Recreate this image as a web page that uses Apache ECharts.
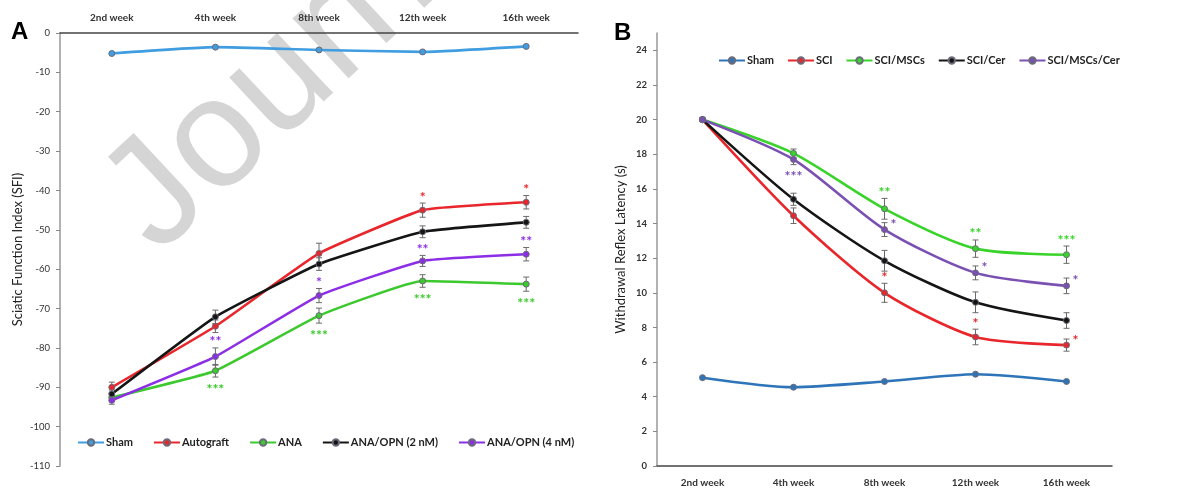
<!DOCTYPE html>
<html>
<head>
<meta charset="utf-8">
<script src="https://cdn.jsdelivr.net/npm/echarts@6/dist/echarts.min.js"></script>
<style>
html,body{margin:0;padding:0;background:#fff;}
#chart{width:1189px;height:488px;}
</style>
</head>
<body>
<div id="chart"></div>
<script>
// ---------- DATA ----------
const weeks = ['2nd week', '4th week', '8th week', '12th week', '16th week'];

// Panel A: Sciatic Function Index (SFI)
const shamA      = [-5.2, -3.6, -4.3, -4.8, -3.4];
const autograftA = [-90.0, -74.5, -56.0, -45.0, -43.0];
const anaA       = [-92.6, -85.8, -71.8, -63.0, -63.8];
const opn2A      = [-91.7, -72.1, -58.7, -50.5, -48.1];
const opn4A      = [-93.3, -82.2, -66.7, -57.9, -56.2];
const autograftAErr = [1.3, 1.6, 2.6, 1.8, 1.7];
const anaAErr       = [1.0, 1.6, 1.9, 1.6, 1.8];
const opn2AErr      = [1.0, 1.7, 1.6, 1.5, 1.5];
const opn4AErr      = [1.0, 2.2, 1.8, 1.4, 1.7];

// Panel B: Withdrawal Reflex Latency (s)
const shamB    = [5.1, 4.55, 4.88, 5.3, 4.88];
const sciB     = [20.0, 14.45, 10.0, 7.45, 6.98];
const mscB     = [20.0, 18.05, 14.85, 12.55, 12.2];
const cerB     = [20.0, 15.4, 11.85, 9.45, 8.4];
const mscCerB  = [20.0, 17.7, 13.65, 11.15, 10.4];
const sciBErr    = [0.08, 0.45, 0.55, 0.45, 0.35];
const mscBErr    = [0.08, 0.25, 0.6, 0.5, 0.5];
const cerBErr    = [0.08, 0.35, 0.6, 0.6, 0.45];
const mscCerBErr = [0.08, 0.3, 0.4, 0.4, 0.45];

// significance marks: [category index, text, placement]
const autograftAMarks = [[3, '*', 'above'], [4, '*', 'above']];
const opn4AMarks = [[1, '**', 'above'], [2, '*', 'above'], [3, '**', 'above'], [4, '**', 'above']];
const anaAMarks  = [[1, '***', 'below'], [2, '***', 'below'], [3, '***', 'below'], [4, '***', 'below']];
const mscCerBMarks = [[1, '***', 'below'], [2, '*', 'right'], [3, '*', 'right'], [4, '*', 'right']];
const mscBMarks = [[2, '**', 'above'], [3, '**', 'above'], [4, '***', 'above']];
const sciBMarks = [[2, '*', 'above'], [3, '*', 'above'], [4, '*', 'right']];

const yTicksA = { min: -110, max: 0, interval: 10 };
const yTicksB = { min: 0, max: 25, interval: 2 };

// ---------- STYLE ----------
const FONT = 'Lato, "Open Sans", sans-serif';
const C = {
  shamA: '#3f9de0', red: '#e8262b', green: '#3cc92d', black: '#151515', purpleA: '#8c2ee6',
  shamB: '#2e74b8', greenB: '#38d42a', purpleB: '#7a50b3'
};

function lineSeries(name, data, color, idx, smooth) {
  return {
    name: name, type: 'line', data: data, xAxisIndex: idx, yAxisIndex: idx,
    smooth: smooth, symbol: 'circle', symbolSize: 6, showSymbol: true,
    lineStyle: { color: color, width: 2.6 },
    itemStyle: { color: color, borderColor: '#6b6b7a', borderWidth: 1 },
    z: 3
  };
}
function errSeries(data, errs, idx) {
  return {
    type: 'custom', xAxisIndex: idx, yAxisIndex: idx, silent: true, z: 2,
    data: data.map((v, i) => [i, v, errs[i]]),
    renderItem: function (params, api) {
      const x = api.value(0), v = api.value(1), e = api.value(2);
      const hi = api.coord([x, v + e]), lo = api.coord([x, v - e]);
      const w = 3;
      const st = { stroke: '#6a6a6a', lineWidth: 1 };
      return { type: 'group', children: [
        { type: 'line', shape: { x1: hi[0], y1: hi[1], x2: lo[0], y2: lo[1] }, style: st },
        { type: 'line', shape: { x1: hi[0] - w, y1: hi[1], x2: hi[0] + w, y2: hi[1] }, style: st },
        { type: 'line', shape: { x1: lo[0] - w, y1: lo[1], x2: lo[0] + w, y2: lo[1] }, style: st }
      ]};
    }
  };
}
function markSeries(marks, values, errs, color, idx) {
  return {
    type: 'custom', xAxisIndex: idx, yAxisIndex: idx, silent: true, z: 4,
    data: marks.map(m => [m[0], values[m[0]]]),
    renderItem: function (params, api) {
      const m = marks[params.dataIndex];
      const v = values[m[0]], e = errs[m[0]];
      let x, y, al = 'center';
      if (m[2] === 'above') { const p = api.coord([m[0], v + e]); x = p[0]; y = p[1] - 6; }
      else if (m[2] === 'below') { const p = api.coord([m[0], v - e]); x = p[0]; y = p[1] + 12; }
      else { const p = api.coord([m[0], v]); x = p[0] + 6; y = p[1] - 5; al = 'left'; }
      return { type: 'text', x: x, y: y, style: { text: m[1], fill: color, font: 'bold 14px ' + FONT, align: al, verticalAlign: 'middle' } };
    }
  };
}

const chart = echarts.init(document.getElementById('chart'), null, { renderer: 'canvas' });

const option = {
  backgroundColor: '#ffffff',
  animation: false,
  textStyle: { fontFamily: FONT },
  graphic: [
    { type: 'text', x: 76, y: 168, rotation: 43 * Math.PI / 180, z: -10, silent: true,
      style: { text: 'Journal Pre-proof', font: '155px "Liberation Sans", Arial, sans-serif', fill: '#d5d5d5', textBaseline: 'alphabetic' } },
    { type: 'text', left: 11, top: 20, style: { text: 'A', font: 'bold 24px "Liberation Sans", Arial, sans-serif', fill: '#000' } },
    { type: 'text', left: 614, top: 21, style: { text: 'B', font: 'bold 24px "Liberation Sans", Arial, sans-serif', fill: '#000' } }
  ],
  legend: [
    { left: 72, top: 432, itemWidth: 26, itemHeight: 8, itemGap: 20,
      data: ['Sham', 'Autograft', 'ANA', 'ANA/OPN (2 nM)', 'ANA/OPN (4 nM)'],
      textStyle: { fontSize: 11, fontWeight: 'bold', color: '#222', fontFamily: FONT, padding: [0, 0, 0, -3] } },
    { left: 713, top: 50, itemWidth: 26, itemHeight: 8, itemGap: 13,
      data: ['Sham ', 'SCI', 'SCI/MSCs', 'SCI/Cer', 'SCI/MSCs/Cer'],
      formatter: n => n.trim(),
      textStyle: { fontSize: 11, fontWeight: 'bold', color: '#222', fontFamily: FONT, padding: [0, 0, 0, -3] } }
  ],
  grid: [
    { left: 60, top: 33, width: 518, height: 433 },
    { left: 657, top: 33, width: 455, height: 433 }
  ],
  xAxis: [
    { type: 'category', gridIndex: 0, data: weeks, position: 'top', boundaryGap: true,
      axisLine: { lineStyle: { color: '#444', width: 1.5 } },
      axisTick: { alignWithLabel: true, inside: true, length: 4, lineStyle: { color: '#444' } },
      axisLabel: { fontSize: 10, fontWeight: 'bold', color: '#333', margin: 10, fontFamily: FONT },
      splitLine: { show: false } },
    { type: 'category', gridIndex: 1, data: weeks, position: 'bottom', boundaryGap: true,
      axisLine: { onZero: false, lineStyle: { color: '#444', width: 1.5 } },
      axisTick: { alignWithLabel: true, length: 4, lineStyle: { color: '#444' } },
      axisLabel: { fontSize: 10, fontWeight: 'bold', color: '#333', margin: 12, fontFamily: FONT },
      splitLine: { show: false } }
  ],
  yAxis: [
    { type: 'value', gridIndex: 0, min: yTicksA.min, max: yTicksA.max, interval: yTicksA.interval,
      name: 'Sciatic Function Index (SFI)', nameLocation: 'middle', nameGap: 36,
      nameTextStyle: { fontSize: 13, color: '#222', fontFamily: FONT },
      axisLine: { show: true, lineStyle: { color: '#999', width: 1.5 } },
      axisTick: { show: true, length: 4, lineStyle: { color: '#888' } },
      axisLabel: { fontSize: 9.5, color: '#333', margin: 10, fontFamily: FONT },
      splitLine: { show: false } },
    { type: 'value', gridIndex: 1, min: yTicksB.min, max: yTicksB.max, interval: yTicksB.interval,
      name: 'Withdrawal Reflex Latency (s)', nameLocation: 'middle', nameGap: 30,
      nameTextStyle: { fontSize: 13, color: '#222', fontFamily: FONT },
      axisLine: { show: true, lineStyle: { color: '#999', width: 1.5 } },
      axisTick: { show: true, length: 4, lineStyle: { color: '#888' } },
      axisLabel: { fontSize: 9.5, fontWeight: 'bold', color: '#333', margin: 10, fontFamily: FONT, showMaxLabel: false },
      splitLine: { show: false } }
  ],
  series: [
    errSeries(autograftA, autograftAErr, 0),
    errSeries(anaA, anaAErr, 0),
    errSeries(opn2A, opn2AErr, 0),
    errSeries(opn4A, opn4AErr, 0),
    lineSeries('Sham', shamA, C.shamA, 0, 0.15),
    lineSeries('Autograft', autograftA, C.red, 0, 0.12),
    lineSeries('ANA', anaA, C.green, 0, 0.12),
    lineSeries('ANA/OPN (2 nM)', opn2A, C.black, 0, 0.12),
    lineSeries('ANA/OPN (4 nM)', opn4A, C.purpleA, 0, 0.12),
    markSeries(autograftAMarks, autograftA, autograftAErr, C.red, 0),
    markSeries(opn4AMarks, opn4A, opn4AErr, C.purpleA, 0),
    markSeries(anaAMarks, anaA, anaAErr, C.green, 0),

    errSeries(sciB, sciBErr, 1),
    errSeries(mscB, mscBErr, 1),
    errSeries(cerB, cerBErr, 1),
    errSeries(mscCerB, mscCerBErr, 1),
    lineSeries('Sham ', shamB, C.shamB, 1, 0.25),
    lineSeries('SCI', sciB, C.red, 1, 0.25),
    lineSeries('SCI/MSCs', mscB, C.greenB, 1, 0.25),
    lineSeries('SCI/Cer', cerB, C.black, 1, 0.25),
    lineSeries('SCI/MSCs/Cer', mscCerB, C.purpleB, 1, 0.25),
    markSeries(mscCerBMarks, mscCerB, mscCerBErr, C.purpleB, 1),
    markSeries(mscBMarks, mscB, mscBErr, C.greenB, 1),
    markSeries(sciBMarks, sciB, sciBErr, C.red, 1)
  ]
};
chart.setOption(option);
</script>
</body>
</html>
